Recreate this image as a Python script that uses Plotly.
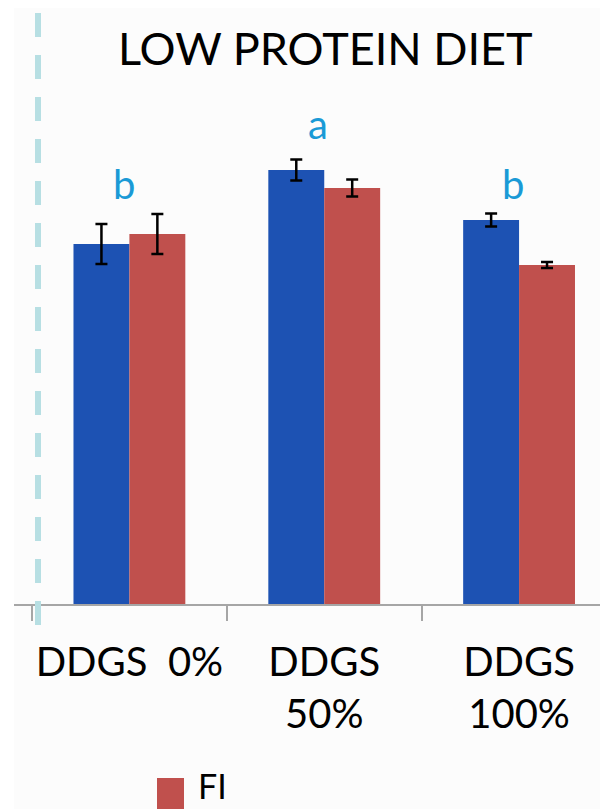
import plotly.graph_objects as go

# ---- data ----
categories = ["DDGS\u00a0\u00a00%", "DDGS<br>50%", "DDGS<br>100%"]
blue_values = [36.0, 43.4, 38.4]
blue_errors = [2.0, 1.05, 0.65]
fi_values = [37.0, 41.6, 33.9]
fi_errors = [2.0, 0.85, 0.30]
sig_letters = ["b", "a", "b"]
sig_letter_y = [42.0, 48.0, 42.0]
title_text = "LOW PROTEIN DIET"
legend_name = "FI"

FONT = "Lato"
BLUE = "#1d52b3"
RED = "#c0504d"
LETTER = "#1a9ad6"

OFF = 8  # page offset of the figure (body margin)
W, H = 608 - OFF, 809 - OFF
ML, MR, MT = 14 - OFF, 0, 0
PH = 604 - OFF
MB = H - MT - PH
PW = W - ML - MR

def px_x(px):
    return (px - OFF - ML) / PW

def px_y(py):
    return (PH + MT - (py - OFF)) / PH

fig = go.Figure()
fig.add_trace(go.Bar(
    x=categories, y=blue_values, name="",
    marker=dict(color=BLUE, line=dict(width=0)),
    error_y=dict(type="data", array=blue_errors, color="black", thickness=2.5, width=6),
    showlegend=False,
))
fig.add_trace(go.Bar(
    x=categories, y=fi_values, name=legend_name,
    marker=dict(color=RED, line=dict(width=0)),
    error_y=dict(type="data", array=fi_errors, color="black", thickness=2.5, width=6),
    showlegend=False,
))

# significance letters
for i, (c, l, yv) in enumerate(zip(categories, sig_letters, sig_letter_y)):
    fig.add_annotation(x=i - 0.03, y=yv, xref="x", yref="y", text=l, showarrow=False,
                       font=dict(family=FONT, size=40, color=LETTER), yanchor="middle")

# title
fig.add_annotation(x=px_x(325), y=px_y(48), xref="paper", yref="paper", text=title_text,
                   showarrow=False, font=dict(family=FONT, size=45, color="black"),
                   xanchor="center", yanchor="middle")

# white strip at far left
fig.add_shape(type="rect", xref="paper", yref="paper", layer="below",
              x0=px_x(8), x1=px_x(14), y0=px_y(809), y1=px_y(8),
              line=dict(width=0), fillcolor="white")

# dashed vertical separator
fig.add_shape(type="line", xref="paper", yref="paper",
              x0=px_x(38), x1=px_x(38), y0=px_y(13), y1=px_y(625),
              line=dict(color="#b7dfe3", width=6, dash="24px,18px"))

# legend key (manual, large)
fig.add_shape(type="rect", xref="paper", yref="paper",
              x0=px_x(157), x1=px_x(184), y0=px_y(778), y1=px_y(809),
              line=dict(width=0), fillcolor=RED)
fig.add_annotation(x=px_x(196), y=px_y(785), xref="paper", yref="paper", text=legend_name,
                   showarrow=False, font=dict(family=FONT, size=34, color="black"),
                   xanchor="left", yanchor="middle")

x0 = -0.5 - (32 - 14) / 195
x1 = 2 + (608 - 519) / 195
fig.update_layout(
    width=W, height=H,
    margin=dict(l=ML, r=MR, t=MT, b=MB),
    paper_bgcolor="#fcfcfc", plot_bgcolor="#fcfcfc",
    barmode="group", bargap=0.426, bargroupgap=0,
    font=dict(family=FONT, color="black"),
    xaxis=dict(type="category", range=[x0, x1], showline=True, linecolor="#a6a6a6",
               linewidth=2, ticks="outside", ticklen=15, tickwidth=2, tickcolor="#a6a6a6",
               tickson="boundaries", tickangle=0,
               tickfont=dict(family=FONT, size=40, color="black"),
               ticklabelstandoff=22,
               showgrid=False, zeroline=False, fixedrange=True),
    yaxis=dict(range=[0, PH / 10], visible=False, showgrid=False, zeroline=False),
)

fig.write_html("out.html")
